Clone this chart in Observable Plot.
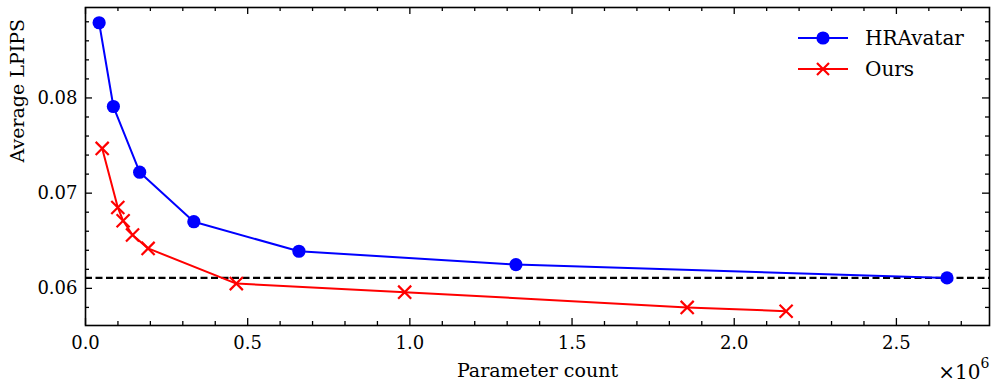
<!DOCTYPE html>
<html>
<head>
<meta charset="utf-8">
<script src="https://cdn.jsdelivr.net/npm/d3@7"></script>
<script src="https://cdn.jsdelivr.net/npm/@observablehq/plot@0.6"></script>
<style>
  html, body { margin: 0; padding: 0; background: #fff; }
  #wrap { position: relative; width: 997px; height: 391px; }
  #legend { position: absolute; left: 796px; top: 22px; font-family: "DejaVu Serif", serif; font-size: 20px; color: #000; }
  #legend .row { display: flex; align-items: center; height: 31px; }
  #legend svg { display: block; margin-right: 13px; }
</style>
</head>
<body>
<div id="wrap"><div id="legend"></div></div>
<script>
// ---- data (parameter count, average LPIPS) ----
const hraParams = [42000, 86000, 167000, 334000, 658000, 1327000, 2656000];
const hraLpips  = [0.0879, 0.0791, 0.0722, 0.0670, 0.0639, 0.0625, 0.0611];
const oursParams = [51500, 99600, 116000, 145000, 193000, 465000, 984000, 1855000, 2160000];
const oursLpips  = [0.0747, 0.0685, 0.0671, 0.0656, 0.0642, 0.0605, 0.0596, 0.0580, 0.0576];
const baseline = [0.0611];
const seriesNames = ["HRAvatar", "Ours"];
const seriesColors = ["#0000ff", "#ff0000"];
const xMajor = [0, 500000, 1000000, 1500000, 2000000, 2500000];
const yMajor = [0.06, 0.07, 0.08];
const xDomain = [0, 2787000];
const yDomain = [0.0561, 0.0895];

const FONT = "'DejaVu Serif', serif";
const W = 997, H = 391, mL = 85, mR = 8, mT = 7, mB = 66;
const innerW = W - mL - mR, innerH = H - mT - mB;

const xMinor = d3.range(0, 2.8, 0.1).map(v => Math.round(v * 10) * 100000)
  .filter(v => v <= xDomain[1] && !xMajor.includes(v));
const yMinor = d3.range(56, 90, 2).map(v => +(v / 1000).toFixed(3))
  .filter(v => v >= yDomain[0] && v <= yDomain[1] && !yMajor.some(m => Math.abs(m - v) < 1e-9));

const hra = hraParams.map((x, i) => ({x, y: hraLpips[i]}));
const ours = oursParams.map((x, i) => ({x, y: oursLpips[i]}));

const tickStyle = {stroke: "black", strokeWidth: 1.3};

const chart = Plot.plot({
  width: W, height: H,
  marginLeft: mL, marginRight: mR, marginTop: mT, marginBottom: mB,
  style: {fontFamily: FONT, fontSize: "18px", color: "black", background: "white"},
  x: {domain: xDomain, axis: null},
  y: {domain: yDomain, axis: null},
  marks: [
    // tick labels
    Plot.axisX(xMajor, {tickSize: 0, tickPadding: 11, tickFormat: d => (d / 1e6).toFixed(1), fontSize: 18, fontFamily: FONT, label: null}),
    Plot.axisY(yMajor, {tickSize: 0, tickPadding: 8, tickFormat: d => d.toFixed(2), fontSize: 18, fontFamily: FONT, label: null}),
    // inward ticks on all four sides
    Plot.tickX(xMajor, {x: d => d, insetTop: innerH - 7, ...tickStyle}),
    Plot.tickX(xMajor, {x: d => d, insetBottom: innerH - 7, ...tickStyle}),
    Plot.tickX(xMinor, {x: d => d, insetTop: innerH - 4, ...tickStyle}),
    Plot.tickX(xMinor, {x: d => d, insetBottom: innerH - 4, ...tickStyle}),
    Plot.tickY(yMajor, {y: d => d, insetRight: innerW - 7, ...tickStyle}),
    Plot.tickY(yMajor, {y: d => d, insetLeft: innerW - 7, ...tickStyle}),
    Plot.tickY(yMinor, {y: d => d, insetRight: innerW - 4, ...tickStyle}),
    Plot.tickY(yMinor, {y: d => d, insetLeft: innerW - 4, ...tickStyle}),
    // baseline
    Plot.ruleY(baseline, {y: d => d, stroke: "black", strokeWidth: 2.2, strokeDasharray: "7,3.5"}),
    // series
    Plot.line(hra, {x: "x", y: "y", stroke: seriesColors[0], strokeWidth: 2}),
    Plot.dot(hra, {x: "x", y: "y", r: 6.6, fill: seriesColors[0], stroke: "none"}),
    Plot.line(ours, {x: "x", y: "y", stroke: seriesColors[1], strokeWidth: 2}),
    Plot.dot(ours, {x: "x", y: "y", r: 6, symbol: "times", stroke: seriesColors[1], strokeWidth: 2.2}),
    Plot.frame({stroke: "black", strokeWidth: 1.6}),
    // axis titles
    Plot.text(["Parameter count"], {frameAnchor: "bottom", dy: 51, fontSize: 19, fontFamily: FONT, lineAnchor: "bottom"}),
    Plot.text(["Average LPIPS"], {frameAnchor: "left", rotate: -90, dx: -68, dy: -4, fontSize: 19, fontFamily: FONT}),
    Plot.text(["×10"], {frameAnchor: "bottom-right", dx: -9, dy: 53, textAnchor: "end", lineAnchor: "bottom", fontSize: 20, fontFamily: FONT}),
    Plot.text(["6"], {frameAnchor: "bottom-right", dx: 0, dy: 42, textAnchor: "end", lineAnchor: "bottom", fontSize: 14, fontFamily: FONT})
  ]
});
document.getElementById("wrap").prepend(chart);

// legend
const legend = d3.select("#legend");
seriesNames.forEach((name, i) => {
  const row = legend.append("div").attr("class", "row");
  const s = row.append("svg").attr("width", 56).attr("height", 20);
  s.append("line").attr("x1", 2).attr("x2", 52).attr("y1", 10).attr("y2", 10)
    .attr("stroke", seriesColors[i]).attr("stroke-width", 2);
  if (i === 0) {
    s.append("circle").attr("cx", 27).attr("cy", 10).attr("r", 6.6).attr("fill", seriesColors[i]);
  } else {
    s.append("path").attr("d", "M21,4L33,16M21,16L33,4").attr("stroke", seriesColors[i]).attr("stroke-width", 2.2);
  }
  row.append("span").text(name);
});
</script>
</body>
</html>
